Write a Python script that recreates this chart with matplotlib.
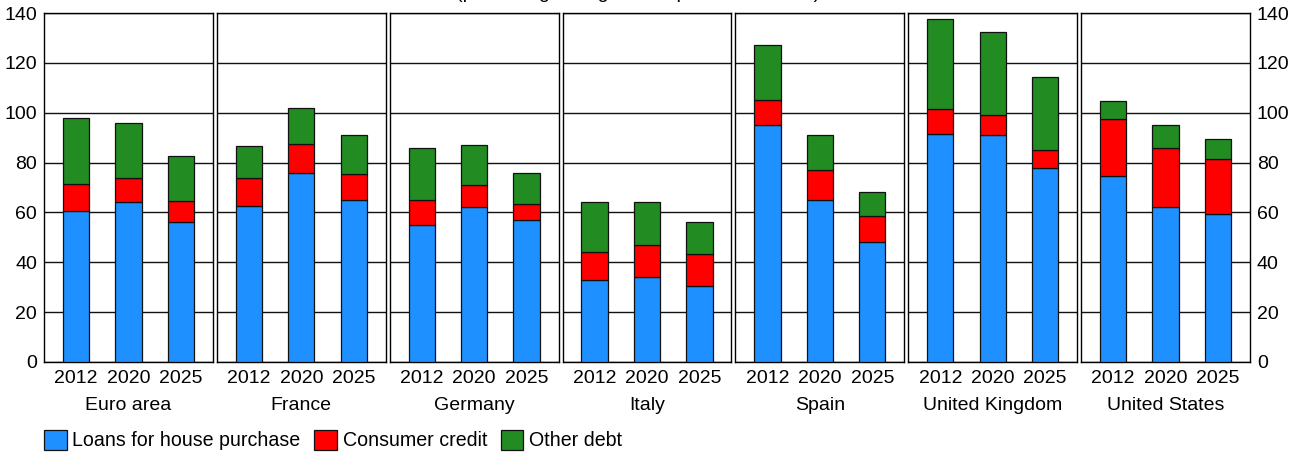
"""Household debt by type: stacked bars per country, 2012 / 2020 / 2025."""
import numpy as np
import matplotlib
matplotlib.use("Agg")
import matplotlib.pyplot as plt

plt.rcParams["font.family"] = ["Liberation Sans", "DejaVu Sans"]
plt.rcParams["font.size"] = 14

countries = ["Euro area", "France", "Germany", "Italy", "Spain",
             "United Kingdom", "United States"]
years = ["2012", "2020", "2025"]

# loans for house purchase, per country, per year
house = [
    [60.5, 64.0, 56.0],
    [62.5, 76.0, 65.0],
    [55.0, 62.0, 57.0],
    [33.0, 34.0, 30.5],
    [95.0, 65.0, 48.0],
    [91.5, 91.0, 78.0],
    [74.5, 62.0, 59.5],
]
consumer = [
    [11.0, 10.0, 8.5],
    [11.5, 11.5, 10.5],
    [10.0, 9.0, 6.5],
    [11.0, 13.0, 13.0],
    [10.0, 12.0, 10.5],
    [10.0, 8.0, 7.0],
    [23.0, 24.0, 22.0],
]
other = [
    [26.5, 21.7, 18.0],
    [12.5, 14.5, 15.5],
    [21.0, 16.0, 12.5],
    [20.0, 17.0, 12.5],
    [22.0, 14.0, 9.5],
    [36.0, 33.5, 29.5],
    [7.0, 9.0, 8.0],
]
series_names = ["Loans for house purchase", "Consumer credit", "Other debt"]
series_colors = ["#1e90ff", "#ff0000", "#228b22"]

W, H = 1303, 454
fig, axes = plt.subplots(1, len(countries), figsize=(W / 100, H / 100), dpi=100,
                         sharey=True)
fig.subplots_adjust(left=44 / W, right=1250 / W, top=1 - 13 / H,
                    bottom=1 - 362 / H, wspace=0.0237)

x = np.arange(len(years))
for i, ax in enumerate(axes):
    bottom = np.zeros(len(years))
    for vals, name, col in zip([house[i], consumer[i], other[i]],
                               series_names, series_colors):
        ax.bar(x, vals, width=0.5, bottom=bottom, color=col, edgecolor="#111111",
               linewidth=0.9, label=name, zorder=3)
        bottom += np.array(vals)
    ax.set_xlim(-0.61, 2.61)
    ax.set_ylim(0, 140)
    ax.set_yticks(range(0, 141, 20))
    ax.set_xticks(x)
    ax.set_xticklabels(years)
    ax.set_xlabel(countries[i], labelpad=7)
    ax.grid(axis="y", color="#111111", linewidth=1.0)
    ax.set_axisbelow(True)
    ax.tick_params(axis="both", length=0)
    ax.tick_params(axis="x", pad=6)
    ax.tick_params(axis="y", pad=5)
    for sp in ax.spines.values():
        sp.set_linewidth(1.0)
    if i == len(countries) - 1:
        ax.tick_params(axis="y", labelright=True, labelleft=False)
    elif i > 0:
        ax.tick_params(axis="y", labelleft=False)

# title sits almost entirely above the canvas in the source image
fig.text(0.49, 1 + 1.5 / H, "(percentages of gross disposable income)",
         ha="center", va="baseline", fontsize=14)

handles, labels = axes[0].get_legend_handles_labels()
fig.legend(handles, labels, loc="center left", bbox_to_anchor=(44 / W, 1 - 440 / H),
           ncol=3, frameon=False, handlelength=1.15, handleheight=1.25,
           handletextpad=0.3, columnspacing=0.7, borderpad=0, borderaxespad=0,
           fontsize=14.1)

fig.savefig("out.png", dpi=100)
